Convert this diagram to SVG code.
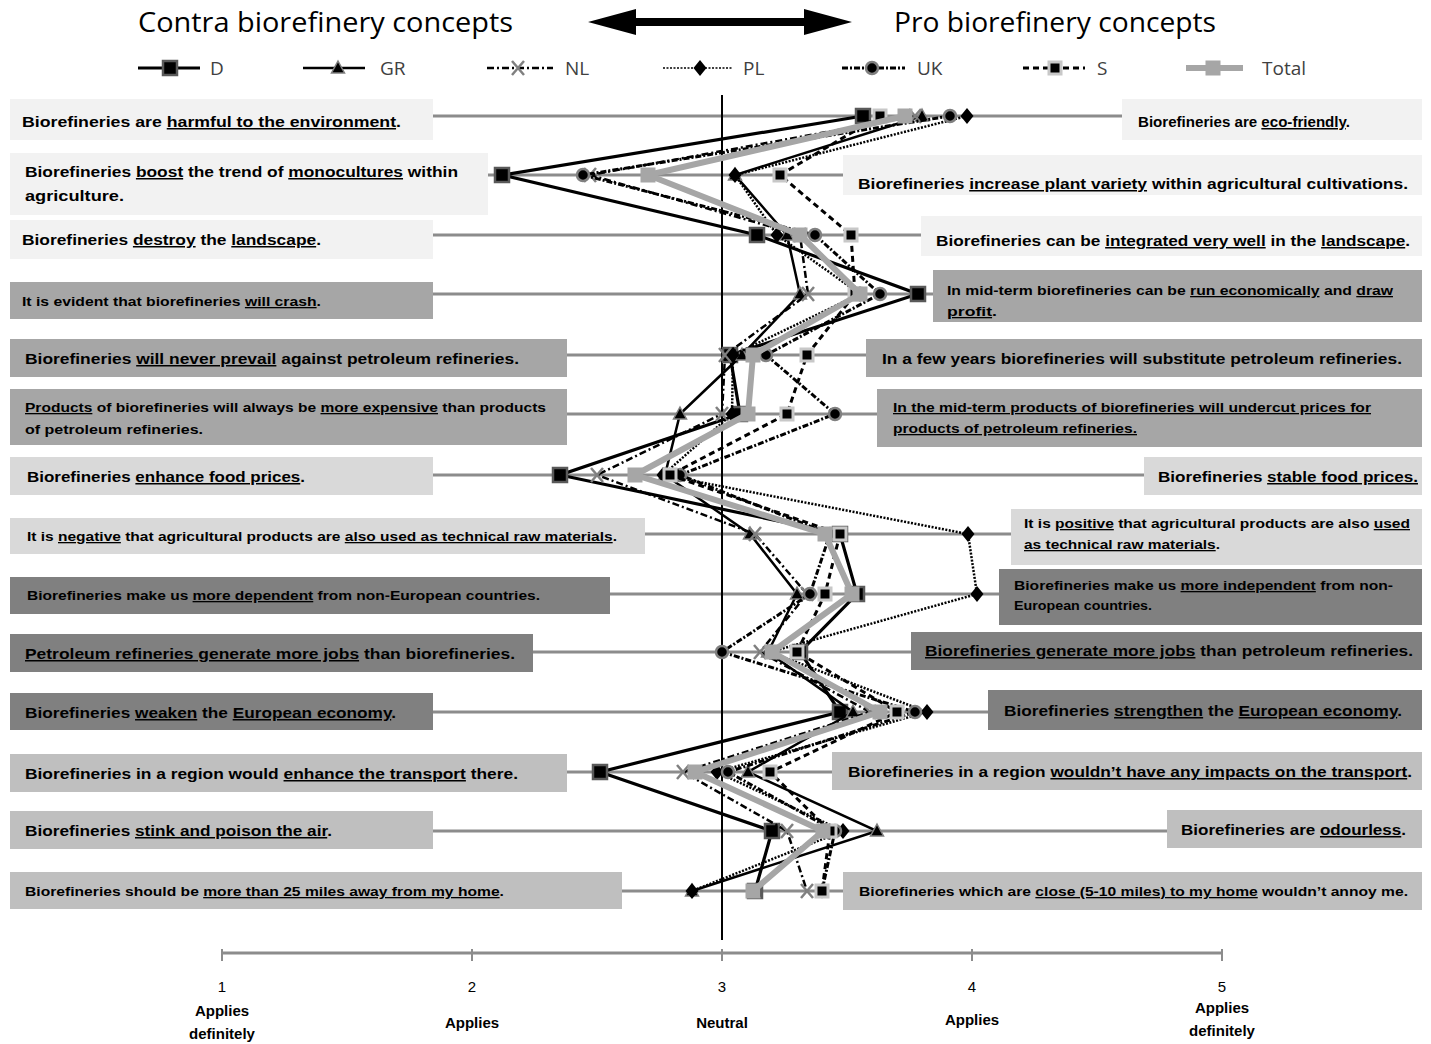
<svg xmlns="http://www.w3.org/2000/svg" xmlns:xlink="http://www.w3.org/1999/xlink" width="1431" height="1044" viewBox="0 0 1431 1044">
  <style>
    .t { font-family: "Liberation Sans", Arial, sans-serif; font-weight: bold; font-size: 15px; fill: #000; }
    .ts { font-size: 13px; }
    .u { text-decoration: underline; text-decoration-thickness: 2px; }
    .head { font-family: "Open Sans", "Liberation Sans", sans-serif; font-size: 27px; fill: #000; }
    .leg { font-family: "Open Sans", "Liberation Sans", sans-serif; font-size: 19px; fill: #404040; }
    .ax { font-family: "Liberation Sans", Arial, sans-serif; font-size: 15px; fill: #000; text-anchor: middle; }
    .axb { font-family: "Liberation Sans", Arial, sans-serif; font-size: 15px; font-weight: bold; fill: #000; text-anchor: middle; }
    .grid { stroke: #8c8c8c; stroke-width: 3; fill: none; }
    .b0 { fill: #f2f2f2; } .b1 { fill: #a6a6a6; } .b2 { fill: #d9d9d9; } .b3 { fill: #808080; } .b4 { fill: #bfbfbf; }
    .sD { stroke: #000; stroke-width: 3.2; fill: none; }
    .sGR { stroke: #000; stroke-width: 2.5; fill: none; }
    .sNL { stroke: #000; stroke-width: 2.5; fill: none; stroke-dasharray: 7 3 2 3; }
    .sPL { stroke: #000; stroke-width: 2.5; fill: none; stroke-dasharray: 2 1.5; }
    .sUK { stroke: #000; stroke-width: 3; fill: none; stroke-dasharray: 6 2 2 2; }
    .sS { stroke: #000; stroke-width: 3; fill: none; stroke-dasharray: 6 4; }
    .sT { stroke: #a6a6a6; stroke-width: 6; fill: none; stroke-linejoin: round; }
  </style>
  <defs>
    <rect id="mD" x="-7" y="-7" width="14" height="14" fill="#000" stroke="#595959" stroke-width="2.5"/>
    <path id="mGR" d="M0,-7 L6.5,5 L-6.5,5 Z" fill="#000" stroke="#808080" stroke-width="1.5"/>
    <path id="mNL" d="M-6,-7 L6,7 M6,-7 L-6,7" stroke="#808080" stroke-width="2.5" fill="none"/>
    <path id="mPL" d="M0,-8 L6.5,0 L0,8 L-6.5,0 Z" fill="#000"/>
    <circle id="mUK" r="6" fill="#000" stroke="#808080" stroke-width="2.5"/>
    <rect id="mS" x="-6" y="-6" width="12" height="12" fill="#000" stroke="#c8c8c8" stroke-width="3"/>
    <rect id="mT" x="-7.5" y="-7.5" width="15" height="15" fill="#a6a6a6"/>
  </defs>

  <rect width="1431" height="1044" fill="#fff"/>

  <!-- headings and double arrow -->
  <g id="headings">
    <text class="head" x="138" y="32" textLength="375" lengthAdjust="spacingAndGlyphs">Contra biorefinery concepts</text>
    <text class="head" x="894" y="32" textLength="322" lengthAdjust="spacingAndGlyphs">Pro biorefinery concepts</text>
    <polygon points="588,22 636,9 636,18 804,18 804,9 852,22 804,35 804,26 636,26 636,35" fill="#000"/>
  </g>

  <!-- legend -->
  <g id="legend">
    <line x1="138" y1="68" x2="200" y2="68" class="sD"/><use href="#mD" x="170" y="68"/>
    <text class="leg" x="210" y="75">D</text>
    <line x1="303" y1="68" x2="365" y2="68" class="sGR"/><use href="#mGR" x="338" y="68"/>
    <text class="leg" x="380" y="75">GR</text>
    <line x1="487" y1="68" x2="553" y2="68" class="sNL"/><use href="#mNL" x="518" y="68"/>
    <text class="leg" x="565" y="75">NL</text>
    <line x1="663" y1="68" x2="733" y2="68" class="sPL" style="stroke-width:1.5"/><use href="#mPL" x="700" y="68"/>
    <text class="leg" x="743" y="75">PL</text>
    <line x1="842" y1="68" x2="905" y2="68" class="sUK"/><use href="#mUK" x="872" y="68"/>
    <text class="leg" x="917" y="75">UK</text>
    <line x1="1023" y1="68" x2="1085" y2="68" class="sS"/><use href="#mS" x="1055" y="68"/>
    <text class="leg" x="1097" y="75">S</text>
    <line x1="1186" y1="68" x2="1243" y2="68" class="sT"/><use href="#mT" x="1213" y="68"/>
    <text class="leg" x="1262" y="75">Total</text>
  </g>

  <!-- horizontal guide lines, one per statement pair -->
  <g id="gridlines" class="grid">
    <line x1="10" y1="116" x2="1422" y2="116"/>
    <line x1="10" y1="175" x2="1422" y2="175"/>
    <line x1="10" y1="235" x2="1422" y2="235"/>
    <line x1="10" y1="294" x2="1422" y2="294"/>
    <line x1="10" y1="355" x2="1422" y2="355"/>
    <line x1="10" y1="414" x2="1422" y2="414"/>
    <line x1="10" y1="475" x2="1422" y2="475"/>
    <line x1="10" y1="534" x2="1422" y2="534"/>
    <line x1="10" y1="594" x2="1422" y2="594"/>
    <line x1="10" y1="652" x2="1422" y2="652"/>
    <line x1="10" y1="712" x2="1422" y2="712"/>
    <line x1="10" y1="772" x2="1422" y2="772"/>
    <line x1="10" y1="831" x2="1422" y2="831"/>
    <line x1="10" y1="891" x2="1422" y2="891"/>
  </g>

  <!-- contra statements -->
  <g id="L0"><rect class="b0" x="10" y="99" width="423" height="41"/>
    <text class="t" x="22" y="127" textLength="379" lengthAdjust="spacingAndGlyphs">Biorefineries are <tspan class="u">harmful to the environment</tspan>.</text></g>
  <g id="L1"><rect class="b0" x="10" y="153" width="478" height="62"/>
    <text class="t" x="25" y="177" textLength="433" lengthAdjust="spacingAndGlyphs">Biorefineries <tspan class="u">boost</tspan> the trend of <tspan class="u">monocultures</tspan> within</text>
    <text class="t" x="25" y="201" textLength="99" lengthAdjust="spacingAndGlyphs">agriculture.</text></g>
  <g id="L2"><rect class="b0" x="10" y="220" width="423" height="39"/>
    <text class="t" x="22" y="245" textLength="299" lengthAdjust="spacingAndGlyphs">Biorefineries <tspan class="u">destroy</tspan> the <tspan class="u">landscape</tspan>.</text></g>
  <g id="L3"><rect class="b1" x="10" y="282" width="423" height="37"/>
    <text class="t ts" x="22" y="306" textLength="299" lengthAdjust="spacingAndGlyphs">It is evident that biorefineries <tspan class="u">will crash</tspan>.</text></g>
  <g id="L4"><rect class="b1" x="10" y="339" width="557" height="38"/>
    <text class="t" x="25" y="364" textLength="494" lengthAdjust="spacingAndGlyphs">Biorefineries <tspan class="u">will never prevail</tspan> against petroleum refineries.</text></g>
  <g id="L5"><rect class="b1" x="10" y="389" width="557" height="56"/>
    <text class="t ts" x="25" y="412" textLength="521" lengthAdjust="spacingAndGlyphs"><tspan class="u">Products</tspan> of biorefineries will always be <tspan class="u">more expensive</tspan> than products</text>
    <text class="t ts" x="25" y="434" textLength="178" lengthAdjust="spacingAndGlyphs">of petroleum refineries.</text></g>
  <g id="L6"><rect class="b2" x="10" y="457" width="423" height="38"/>
    <text class="t" x="27" y="482" textLength="278" lengthAdjust="spacingAndGlyphs">Biorefineries <tspan class="u">enhance food prices</tspan>.</text></g>
  <g id="L7"><rect class="b2" x="10" y="518" width="635" height="36"/>
    <text class="t ts" x="27" y="541" textLength="590" lengthAdjust="spacingAndGlyphs">It is <tspan class="u">negative</tspan> that agricultural products are <tspan class="u">also used as technical raw materials</tspan>.</text></g>
  <g id="L8"><rect class="b3" x="10" y="577" width="600" height="37"/>
    <text class="t ts" x="27" y="600" textLength="513" lengthAdjust="spacingAndGlyphs">Biorefineries make us <tspan class="u">more dependent</tspan> from non-European countries.</text></g>
  <g id="L9"><rect class="b3" x="10" y="634" width="523" height="38"/>
    <text class="t" x="25" y="659" textLength="490" lengthAdjust="spacingAndGlyphs"><tspan class="u">Petroleum refineries generate more jobs</tspan> than biorefineries.</text></g>
  <g id="L10"><rect class="b3" x="10" y="693" width="423" height="37"/>
    <text class="t" x="25" y="718" textLength="371" lengthAdjust="spacingAndGlyphs">Biorefineries <tspan class="u">weaken</tspan> the <tspan class="u">European economy</tspan>.</text></g>
  <g id="L11"><rect class="b4" x="10" y="754" width="557" height="38"/>
    <text class="t" x="25" y="779" textLength="493" lengthAdjust="spacingAndGlyphs">Biorefineries in a region would <tspan class="u">enhance the transport</tspan> there.</text></g>
  <g id="L12"><rect class="b4" x="10" y="811" width="423" height="38"/>
    <text class="t" x="25" y="836" textLength="307" lengthAdjust="spacingAndGlyphs">Biorefineries <tspan class="u">stink and poison the air</tspan>.</text></g>
  <g id="L13"><rect class="b4" x="10" y="872" width="612" height="37"/>
    <text class="t ts" x="25" y="896" textLength="479" lengthAdjust="spacingAndGlyphs">Biorefineries should be <tspan class="u">more than 25 miles away from my home</tspan>.</text></g>

  <!-- pro statements -->
  <g id="R0"><rect class="b0" x="1122" y="99" width="300" height="41"/>
    <text class="t" x="1138" y="127" textLength="212" lengthAdjust="spacingAndGlyphs">Biorefineries are <tspan class="u">eco-friendly</tspan>.</text></g>
  <g id="R1"><rect class="b0" x="843" y="155" width="579" height="40"/>
    <text class="t" x="858" y="189" textLength="550" lengthAdjust="spacingAndGlyphs">Biorefineries <tspan class="u">increase plant variety</tspan> within agricultural cultivations.</text></g>
  <g id="R2"><rect class="b0" x="921" y="216" width="501" height="40"/>
    <text class="t" x="936" y="246" textLength="474" lengthAdjust="spacingAndGlyphs">Biorefineries can be <tspan class="u">integrated very well</tspan> in the <tspan class="u">landscape</tspan>.</text></g>
  <g id="R3"><rect class="b1" x="933" y="270" width="489" height="52"/>
    <text class="t ts" x="947" y="295" textLength="446" lengthAdjust="spacingAndGlyphs">In mid-term biorefineries can be <tspan class="u">run economically</tspan> and <tspan class="u">draw</tspan></text>
    <text class="t ts" x="947" y="316" textLength="50" lengthAdjust="spacingAndGlyphs"><tspan class="u">profit</tspan>.</text></g>
  <g id="R4"><rect class="b1" x="866" y="339" width="556" height="38"/>
    <text class="t" x="882" y="364" textLength="520" lengthAdjust="spacingAndGlyphs">In a few years biorefineries will substitute petroleum refineries.</text></g>
  <g id="R5"><rect class="b1" x="877" y="389" width="545" height="58"/>
    <text class="t ts" x="893" y="412" textLength="478" lengthAdjust="spacingAndGlyphs"><tspan class="u">In the mid-term products of biorefineries will undercut prices for</tspan></text>
    <text class="t ts" x="893" y="433" textLength="244" lengthAdjust="spacingAndGlyphs"><tspan class="u">products of petroleum refineries.</tspan></text></g>
  <g id="R6"><rect class="b2" x="1144" y="457" width="278" height="38"/>
    <text class="t" x="1158" y="482" textLength="260" lengthAdjust="spacingAndGlyphs">Biorefineries <tspan class="u">stable food prices.</tspan></text></g>
  <g id="R7"><rect class="b2" x="1011" y="509" width="411" height="56"/>
    <text class="t ts" x="1024" y="528" textLength="386" lengthAdjust="spacingAndGlyphs">It is <tspan class="u">positive</tspan> that agricultural products are also <tspan class="u">used</tspan></text>
    <text class="t ts" x="1024" y="549" textLength="196" lengthAdjust="spacingAndGlyphs"><tspan class="u">as technical raw materials</tspan>.</text></g>
  <g id="R8"><rect class="b3" x="999" y="569" width="423" height="56"/>
    <text class="t ts" x="1014" y="590" textLength="379" lengthAdjust="spacingAndGlyphs">Biorefineries make us <tspan class="u">more independent</tspan> from non-</text>
    <text class="t ts" x="1014" y="610" textLength="138" lengthAdjust="spacingAndGlyphs">European countries.</text></g>
  <g id="R9"><rect class="b3" x="911" y="632" width="511" height="38"/>
    <text class="t" x="925" y="656" textLength="488" lengthAdjust="spacingAndGlyphs"><tspan class="u">Biorefineries generate more jobs</tspan> than petroleum refineries.</text></g>
  <g id="R10"><rect class="b3" x="988" y="690" width="434" height="40"/>
    <text class="t" x="1004" y="716" textLength="398" lengthAdjust="spacingAndGlyphs">Biorefineries <tspan class="u">strengthen</tspan> the <tspan class="u">European economy</tspan>.</text></g>
  <g id="R11"><rect class="b4" x="832" y="752" width="590" height="38"/>
    <text class="t" x="848" y="777" textLength="564" lengthAdjust="spacingAndGlyphs">Biorefineries in a region <tspan class="u">wouldn’t have any impacts on the transport</tspan>.</text></g>
  <g id="R12"><rect class="b4" x="1167" y="810" width="255" height="38"/>
    <text class="t" x="1181" y="835" textLength="225" lengthAdjust="spacingAndGlyphs">Biorefineries are <tspan class="u">odourless</tspan>.</text></g>
  <g id="R13"><rect class="b4" x="843" y="872" width="579" height="38"/>
    <text class="t ts" x="859" y="896" textLength="549" lengthAdjust="spacingAndGlyphs">Biorefineries which are <tspan class="u">close (5-10 miles) to my home</tspan> wouldn’t annoy me.</text></g>

  <!-- neutral line -->
  <line id="neutral" x1="722" y1="95" x2="722" y2="940" stroke="#000" stroke-width="2"/>

  <!-- country series -->
  <g id="connectors">
    <g id="series-D">
      <polyline class="sD" points="863,116 502,175 757,235 918,294 730,355 740,414 560,475 840,534 857,594 800,652 840,712 600,772 772,831 755,891"/>
      <use href="#mD" x="863" y="116"/><use href="#mD" x="502" y="175"/><use href="#mD" x="757" y="235"/><use href="#mD" x="918" y="294"/><use href="#mD" x="730" y="355"/><use href="#mD" x="740" y="414"/><use href="#mD" x="560" y="475"/><use href="#mD" x="840" y="534"/><use href="#mD" x="857" y="594"/><use href="#mD" x="800" y="652"/><use href="#mD" x="840" y="712"/><use href="#mD" x="600" y="772"/><use href="#mD" x="772" y="831"/><use href="#mD" x="755" y="891"/>
    </g>
    <g id="series-GR">
      <polyline class="sGR" points="922,116 735,175 787,235 800,294 742,355 680,414 665,475 750,534 797,594 768,652 853,712 748,772 877,831 692,891"/>
      <use href="#mGR" x="922" y="116"/><use href="#mGR" x="735" y="175"/><use href="#mGR" x="787" y="235"/><use href="#mGR" x="800" y="294"/><use href="#mGR" x="742" y="355"/><use href="#mGR" x="680" y="414"/><use href="#mGR" x="665" y="475"/><use href="#mGR" x="750" y="534"/><use href="#mGR" x="797" y="594"/><use href="#mGR" x="768" y="652"/><use href="#mGR" x="853" y="712"/><use href="#mGR" x="748" y="772"/><use href="#mGR" x="877" y="831"/><use href="#mGR" x="692" y="891"/>
    </g>
    <g id="series-NL">
      <polyline class="sNL" points="915,116 590,175 800,235 808,294 725,355 722,414 597,475 755,534 807,594 760,652 870,712 683,772 787,831 807,891"/>
      <use href="#mNL" x="915" y="116"/><use href="#mNL" x="590" y="175"/><use href="#mNL" x="800" y="235"/><use href="#mNL" x="808" y="294"/><use href="#mNL" x="725" y="355"/><use href="#mNL" x="722" y="414"/><use href="#mNL" x="597" y="475"/><use href="#mNL" x="755" y="534"/><use href="#mNL" x="807" y="594"/><use href="#mNL" x="760" y="652"/><use href="#mNL" x="870" y="712"/><use href="#mNL" x="683" y="772"/><use href="#mNL" x="787" y="831"/><use href="#mNL" x="807" y="891"/>
    </g>
    <g id="series-PL">
      <polyline class="sPL" points="967,116 735,175 777,235 860,294 733,355 732,414 663,475 968,534 977,594 770,652 927,712 717,772 843,831 692,891"/>
      <use href="#mPL" x="967" y="116"/><use href="#mPL" x="735" y="175"/><use href="#mPL" x="777" y="235"/><use href="#mPL" x="860" y="294"/><use href="#mPL" x="733" y="355"/><use href="#mPL" x="732" y="414"/><use href="#mPL" x="663" y="475"/><use href="#mPL" x="968" y="534"/><use href="#mPL" x="977" y="594"/><use href="#mPL" x="770" y="652"/><use href="#mPL" x="927" y="712"/><use href="#mPL" x="717" y="772"/><use href="#mPL" x="843" y="831"/><use href="#mPL" x="692" y="891"/>
    </g>
    <g id="series-UK">
      <polyline class="sUK" points="950,116 583,175 815,235 880,294 766,355 835,414 680,475 830,534 810,594 722,652 915,712 728,772 835,831 822,891"/>
      <use href="#mUK" x="950" y="116"/><use href="#mUK" x="583" y="175"/><use href="#mUK" x="815" y="235"/><use href="#mUK" x="880" y="294"/><use href="#mUK" x="766" y="355"/><use href="#mUK" x="835" y="414"/><use href="#mUK" x="680" y="475"/><use href="#mUK" x="830" y="534"/><use href="#mUK" x="810" y="594"/><use href="#mUK" x="722" y="652"/><use href="#mUK" x="915" y="712"/><use href="#mUK" x="728" y="772"/><use href="#mUK" x="835" y="831"/><use href="#mUK" x="822" y="891"/>
    </g>
    <g id="series-S">
      <polyline class="sS" points="880,116 780,175 851,235 855,294 807,355 787,414 670,475 840,534 825,594 797,652 897,712 770,772 830,831 822,891"/>
      <use href="#mS" x="880" y="116"/><use href="#mS" x="780" y="175"/><use href="#mS" x="851" y="235"/><use href="#mS" x="855" y="294"/><use href="#mS" x="807" y="355"/><use href="#mS" x="787" y="414"/><use href="#mS" x="670" y="475"/><use href="#mS" x="840" y="534"/><use href="#mS" x="825" y="594"/><use href="#mS" x="797" y="652"/><use href="#mS" x="897" y="712"/><use href="#mS" x="770" y="772"/><use href="#mS" x="830" y="831"/><use href="#mS" x="822" y="891"/>
    </g>
    <g id="series-Total">
      <polyline class="sT" points="905,116 648,175 800,235 860,294 753,355 748,414 635,475 825,534 852,594 772,652 880,712 695,772 823,831 753,891"/>
      <use href="#mT" x="905" y="116"/><use href="#mT" x="648" y="175"/><use href="#mT" x="800" y="235"/><use href="#mT" x="860" y="294"/><use href="#mT" x="753" y="355"/><use href="#mT" x="748" y="414"/><use href="#mT" x="635" y="475"/><use href="#mT" x="825" y="534"/><use href="#mT" x="852" y="594"/><use href="#mT" x="772" y="652"/><use href="#mT" x="880" y="712"/><use href="#mT" x="695" y="772"/><use href="#mT" x="823" y="831"/><use href="#mT" x="753" y="891"/>
    </g>
  </g>

  <!-- rating scale -->
  <g id="axis">
    <line x1="222" y1="953" x2="1222" y2="953" stroke="#8c8c8c" stroke-width="3"/>
    <g stroke="#8c8c8c" stroke-width="2">
      <line x1="222" y1="949" x2="222" y2="961"/><line x1="472" y1="949" x2="472" y2="961"/><line x1="722" y1="949" x2="722" y2="961"/><line x1="972" y1="949" x2="972" y2="961"/><line x1="1222" y1="949" x2="1222" y2="961"/>
    </g>
    <text class="ax" x="222" y="992">1</text>
    <text class="ax" x="472" y="992">2</text>
    <text class="ax" x="722" y="992">3</text>
    <text class="ax" x="972" y="992">4</text>
    <text class="ax" x="1222" y="992">5</text>
    <text class="axb" x="222" y="1016">Applies</text>
    <text class="axb" x="222" y="1039">definitely</text>
    <text class="axb" x="472" y="1028">Applies</text>
    <text class="axb" x="722" y="1028">Neutral</text>
    <text class="axb" x="972" y="1025">Applies</text>
    <text class="axb" x="1222" y="1013">Applies</text>
    <text class="axb" x="1222" y="1036">definitely</text>
  </g>
</svg>
